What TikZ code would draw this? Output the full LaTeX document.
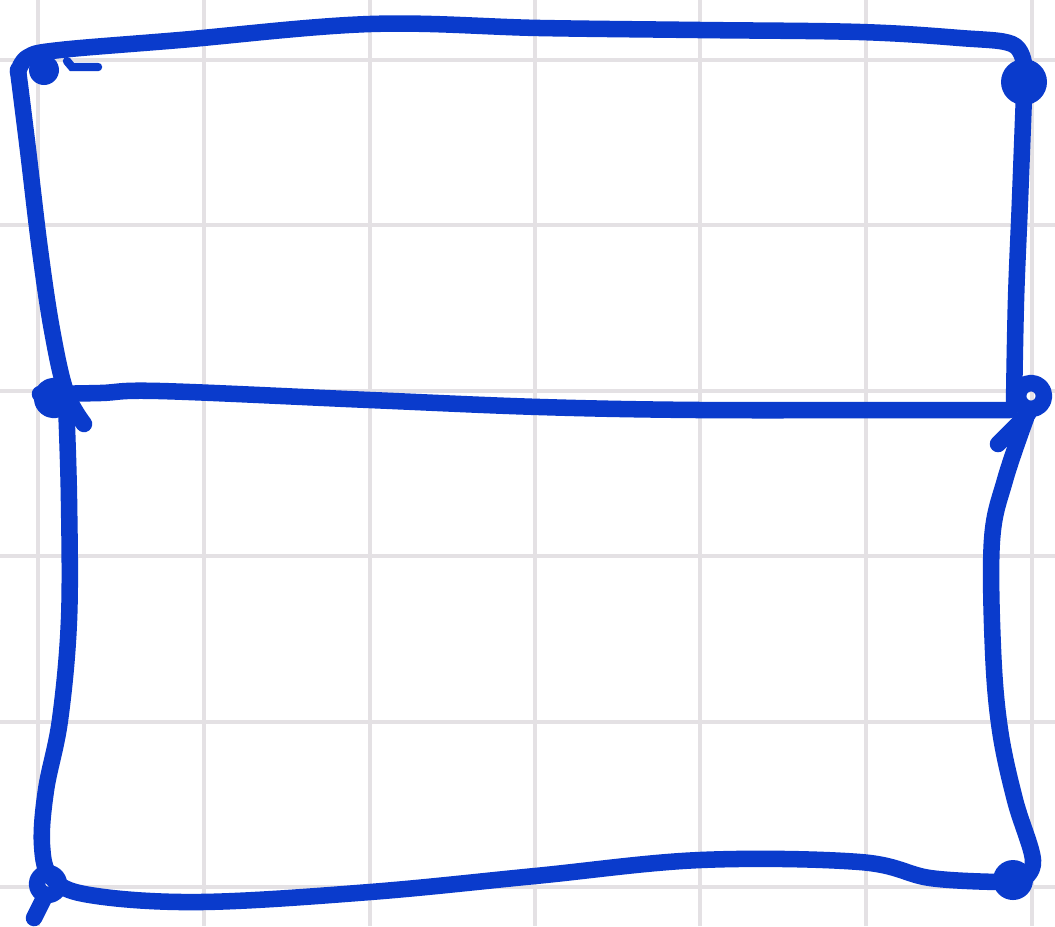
\documentclass[tikz,border=0pt]{standalone}
\usepackage{xcolor}
\usepackage{tikz}
\usetikzlibrary{calc}
\definecolor{penBlue}{HTML}{0A3BCC}
\definecolor{gridGray}{HTML}{E4E1E4}

\begin{document}
\begin{tikzpicture}[x=0.01cm, y=-0.01cm,
  ink/.style={penBlue, line width=4.7pt, line cap=round, line join=round},
  gridline/.style={gridGray, line width=1pt}]
\useasboundingbox (0,0) rectangle (1055,926);
\fill[white] (0,0) rectangle (1055,926);
% ---- grid paper ----
\foreach \gx in {38,204,370,535,700,866,1032}{\draw[gridline] (\gx,0) -- (\gx,926);}
\foreach \gy in {60,225,391,556,722,887}{\draw[gridline] (0,\gy) -- (1055,\gy);}
% ---- corners ----
\coordinate (tl) at (44,70);
\coordinate (tr) at (1024,82);
\coordinate (ml) at (54,398);
\coordinate (mr) at (1031,396);
\coordinate (bl) at (48,884);
\coordinate (br) at (1013,880);
% ---- upper box ----
\draw[ink] plot[smooth, tension=0.6] coordinates {(18,72) (28,57) (60,50) (180,40) (370,24) (540,28) (700,30) (860,32) (960,38) (1012,44) (1024,64)};
\draw[ink] plot[smooth, tension=0.6] coordinates {(18,70) (28,150) (40,250) (52,330) (66,392) (84,424)};
\draw[ink] plot[smooth, tension=0.6] coordinates {(1024,95) (1020,200) (1016,300) (1014,405)};
\fill[penBlue] (tl) circle (15);
\draw[penBlue, line width=2.4pt, line cap=round] (67,61) -- (72,67) -- (98,67);
\fill[penBlue] (tr) circle (23);
% ---- middle line ----
\draw[ink] plot[smooth, tension=0.6] coordinates {(40,394) (100,393) (160,391) (370,400) (540,407) (700,410) (900,410) (1010,410)};
\draw[ink] (ml) circle (12);
\draw[ink] (mr) circle (13);
\draw[ink] (1028,414) -- (998,444);
% ---- lower box ----
\draw[ink] plot[smooth, tension=0.6] coordinates {(66,402) (69,500) (69,620) (60,720) (46,790) (42,845) (52,878) (90,895) (200,902) (370,892) (535,876) (700,860) (860,862) (930,878) (1000,882)};
\draw[ink] plot[smooth, tension=0.6] coordinates {(1026,418) (1005,480) (992,540) (993,650) (1000,730) (1015,800) (1033,860) (1022,880)};
\draw[ink] (bl) circle (11);
\draw[ink] (44,898) -- (34,918);
\fill[penBlue] (br) circle (20);
\end{tikzpicture}
\end{document}
